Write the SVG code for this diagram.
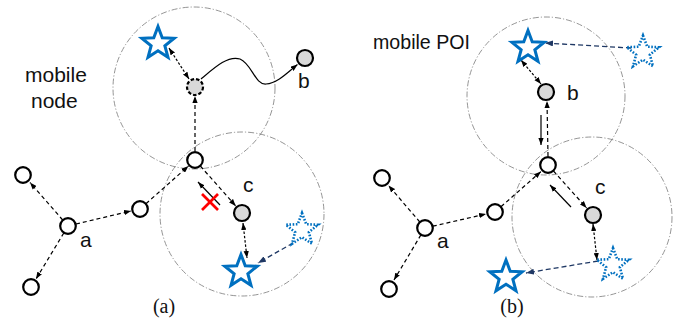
<svg xmlns="http://www.w3.org/2000/svg" width="684" height="320" viewBox="0 0 684 320">
<style>
.range{fill:none;stroke:#7a7a7a;stroke-width:0.8;stroke-dasharray:6 2 1.2 2}
.node{fill:#fff;stroke:#000;stroke-width:2.2}
.gnode{fill:#d9d9d9;stroke:#000;stroke-width:2.2}
.mnode{fill:#d9d9d9;stroke:#000;stroke-width:2.2;stroke-dasharray:3.5 2}
.star{fill:none;stroke:#0070c0;stroke-width:3;stroke-linejoin:miter}
.dstar{fill:none;stroke:#0070c0;stroke-width:2.6;stroke-dasharray:1.6 1.6}
.dash{fill:none;stroke:#000;stroke-width:1.2;stroke-dasharray:4 3;marker-end:url(#ah)}
.dbl{fill:none;stroke:#000;stroke-width:1.2;stroke-dasharray:2.5 1.8;marker-start:url(#ah);marker-end:url(#ah)}
.bdash{fill:none;stroke:#1f3864;stroke-width:1.3;stroke-dasharray:5 3;marker-end:url(#bh)}
.solid{fill:none;stroke:#000;stroke-width:1.2;marker-end:url(#ah)}
.lbl{font-family:"Liberation Sans",Arial,sans-serif;font-size:21px;fill:#111}
.cap{font-family:"Liberation Serif","Times New Roman",serif;font-size:20px;fill:#111}
</style>
<defs>
<marker id="ah" viewBox="0 0 8 6" refX="8" refY="3" markerWidth="7" markerHeight="5.5" markerUnits="userSpaceOnUse" orient="auto-start-reverse"><path d="M0,0 L8,3 L0,6 z" fill="#000"/></marker>
<marker id="bh" viewBox="0 0 8 6" refX="8" refY="3" markerWidth="8" markerHeight="6" markerUnits="userSpaceOnUse" orient="auto"><path d="M0,0 L8,3 L0,6 z" fill="#1f3864"/></marker>
<path id="st" d="M0,-17 L4.23,-5.82 L16.17,-5.25 L6.85,2.22 L9.99,13.75 L0,7.2 L-9.99,13.75 L-6.85,2.22 L-16.17,-5.25 L-4.23,-5.82 Z"/>
</defs>

<g id="ranges">
<circle class="range" cx="194" cy="88" r="81"/>
<circle class="range" cx="242" cy="214" r="82"/>
<circle class="range" cx="546" cy="96" r="79"/>
<circle class="range" cx="592" cy="217" r="80"/>
</g>

<g id="connectors">
<line class="dash" x1="62.7" y1="220" x2="30" y2="182.5"/>
<line class="dash" x1="63.8" y1="233" x2="36" y2="279"/>
<line class="dash" x1="76" y1="224" x2="131" y2="211"/>
<line class="dash" x1="146" y1="203.7" x2="188.5" y2="166"/>
<line class="dash" x1="195" y1="151" x2="195" y2="96"/>
<line class="dbl" x1="169" y1="48" x2="189" y2="79"/>
<path class="solid" d="M201,79 C214,68 228,55 240,59 C252,64 255,85 266,84 C278,83 288,72 297.5,64.5"/>
<line class="dash" x1="200.3" y1="166" x2="235.7" y2="205.9"/>
<line class="dbl" x1="243" y1="223" x2="247" y2="258"/>
<line class="bdash" x1="293" y1="243" x2="258" y2="263"/>
<line class="solid" x1="220" y1="205" x2="198" y2="182"/>
<line class="dash" x1="419.8" y1="222" x2="388.5" y2="185.5"/>
<line class="dash" x1="420.9" y1="234.9" x2="394" y2="280"/>
<line class="dash" x1="432.8" y1="226.2" x2="486" y2="214"/>
<line class="dash" x1="501" y1="206.7" x2="541" y2="171.5"/>
<line class="dash" x1="548" y1="156" x2="547" y2="101"/>
<line class="dbl" x1="521" y1="60" x2="541" y2="84"/>
<line class="bdash" x1="631" y1="48" x2="545" y2="43"/>
<line class="dash" x1="553.4" y1="171" x2="586.6" y2="207.9"/>
<line class="dbl" x1="593" y1="224" x2="597" y2="260"/>
<line class="bdash" x1="598" y1="261" x2="526" y2="273"/>
<line class="solid" x1="571" y1="207" x2="550" y2="185"/>
<line class="solid" x1="541" y1="115" x2="541" y2="145"/>
</g>

<g id="cross">
<line x1="202" y1="194" x2="218" y2="210" stroke="#ff0000" stroke-width="2.6"/>
<line x1="218" y1="194" x2="202" y2="210" stroke="#ff0000" stroke-width="2.6"/>
</g>

<g id="a-tl"><circle class="node" cx="23" cy="175" r="7.8"/></g>
<g id="a-a"><circle class="node" cx="68" cy="226" r="7.8"/><text class="lbl" x="80" y="247">a</text></g>
<g id="a-bl"><circle class="node" cx="31" cy="287" r="7.8"/></g>
<g id="a-m"><circle class="node" cx="140" cy="209" r="7.8"/></g>
<g id="a-r"><circle class="node" cx="195" cy="160" r="7.8"/></g>
<g id="a-mn"><circle class="mnode" cx="195" cy="87" r="8"/></g>
<g id="a-b"><circle class="gnode" cx="305" cy="58" r="8"/><text class="lbl" x="298" y="88">b</text></g>
<g id="a-c"><circle class="gnode" cx="242" cy="213" r="8"/><text class="lbl" x="243" y="192">c</text></g>
<g id="a-s1"><use href="#st" class="star" transform="translate(158,43.5)"/></g>
<g id="a-s2"><use href="#st" class="star" transform="translate(241,271.5)"/></g>
<g id="a-ds"><use href="#st" class="dstar" transform="translate(302,230)"/></g>
<g id="a-text"><text class="lbl" x="25" y="82">mobile</text><text class="lbl" x="31" y="108">node</text></g>
<text class="cap" x="164" y="313" text-anchor="middle">(a)</text>

<g id="b-tl"><circle class="node" cx="382" cy="178" r="7.8"/></g>
<g id="b-a"><circle class="node" cx="425" cy="228" r="7.8"/><text class="lbl" x="437" y="248">a</text></g>
<g id="b-bl"><circle class="node" cx="389" cy="289" r="7.8"/></g>
<g id="b-m"><circle class="node" cx="495" cy="212" r="7.8"/></g>
<g id="b-r"><circle class="node" cx="548" cy="165" r="7.8"/></g>
<g id="b-b"><circle class="gnode" cx="546" cy="92" r="8"/><text class="lbl" x="567" y="100">b</text></g>
<g id="b-c"><circle class="gnode" cx="593" cy="215" r="8"/><text class="lbl" x="595" y="194">c</text></g>
<g id="b-s1"><use href="#st" class="star" transform="translate(528,47.5)"/></g>
<g id="b-ds1"><use href="#st" class="dstar" transform="translate(643,52.5)"/></g>
<g id="b-ds2"><use href="#st" class="dstar" transform="translate(613,265)"/></g>
<g id="b-s2"><use href="#st" class="star" transform="translate(506,277)"/></g>
<g id="b-text"><text class="lbl" x="373" y="49" textLength="97" lengthAdjust="spacingAndGlyphs">mobile POI</text></g>
<text class="cap" x="512" y="313" text-anchor="middle">(b)</text>
</svg>
